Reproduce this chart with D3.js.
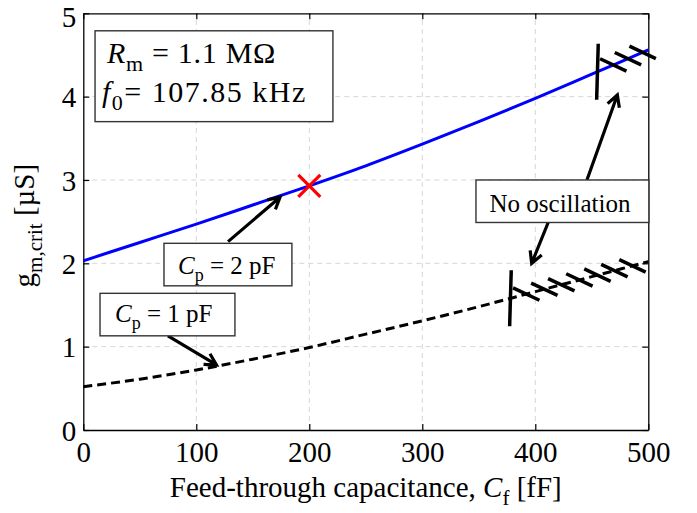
<!DOCTYPE html>
<html>
<head>
<meta charset="utf-8">
<script src="https://cdn.jsdelivr.net/npm/d3@7"></script>
<style>
  body { margin: 0; background: #fff; }
  text { font-family: "Liberation Serif", "Times New Roman", serif; fill: #000; }
</style>
</head>
<body>
<svg id="chart"></svg>
<script>
// feed-through capacitance [fF]
const capF = [0, 50, 100, 150, 200, 250, 300, 350, 400, 450, 500];
// critical transconductance [uS]
const gmCp2 = [2.03, 2.25, 2.47, 2.70, 2.93, 3.17, 3.43, 3.70, 3.98, 4.27, 4.56];
const gmCp1 = [0.52, 0.61, 0.72, 0.85, 0.99, 1.15, 1.31, 1.48, 1.66, 1.84, 2.02];

const xTicks = [0, 100, 200, 300, 400, 500];
const yTicks = [0, 1, 2, 3, 4, 5];

// red cross on the Cp = 2 pF curve
const markCf = 200;
const markGm = 2.93;

// "no oscillation" limits and hatch marks along each curve
const limitCp2 = 455;
const hatchCp2 = [469, 482, 495];
const limitCp1 = 378;
const hatchCp1 = [392, 408, 423, 439, 455, 470, 486];

const width = 697, height = 513;
const margin = { top: 13.3, right: 48.7, bottom: 83, left: 83.3 };

const svg = d3.select('#chart')
  .attr('width', width)
  .attr('height', height);

const x = d3.scaleLinear().domain([0, 500]).range([margin.left, width - margin.right]);
const y = d3.scaleLinear().domain([0, 5]).range([height - margin.bottom, margin.top]);

// grid
svg.append('g')
  .selectAll('line')
  .data(xTicks.slice(1, -1))
  .enter().append('line')
  .attr('x1', d => x(d)).attr('x2', d => x(d))
  .attr('y1', y(0)).attr('y2', y(5))
  .attr('stroke', '#d6d6d6').attr('stroke-dasharray', '5,4');
svg.append('g')
  .selectAll('line')
  .data(yTicks.slice(1, -1))
  .enter().append('line')
  .attr('y1', d => y(d)).attr('y2', d => y(d))
  .attr('x1', x(0)).attr('x2', x(500))
  .attr('stroke', '#d6d6d6').attr('stroke-dasharray', '5,4');

// axes, ticks inside on all four sides
const fontSize = 29;
const fmt = d3.format('d');
const axisB = svg.append('g')
  .attr('transform', `translate(0,${y(0)})`)
  .call(d3.axisBottom(x).tickValues(xTicks).tickFormat(fmt).tickSizeInner(-6).tickSizeOuter(0).tickPadding(11));
const axisT = svg.append('g')
  .attr('transform', `translate(0,${y(5)})`)
  .call(d3.axisTop(x).tickValues(xTicks).tickSizeInner(-6).tickSizeOuter(0).tickFormat(''));
const axisL = svg.append('g')
  .attr('transform', `translate(${x(0)},0)`)
  .call(d3.axisLeft(y).tickValues(yTicks).tickFormat(fmt).tickSizeInner(-6).tickSizeOuter(0).tickPadding(7));
const axisR = svg.append('g')
  .attr('transform', `translate(${x(500)},0)`)
  .call(d3.axisRight(y).tickValues(yTicks).tickSizeInner(-6).tickSizeOuter(0).tickFormat(''));

[axisB, axisT, axisL, axisR].forEach(a => {
  a.attr('font-family', '"Liberation Serif", serif').attr('font-size', fontSize);
  a.select('.domain').attr('stroke', '#000').attr('stroke-width', 1.3);
  a.selectAll('.tick line').attr('stroke', '#000').attr('stroke-width', 1.2);
  a.selectAll('text').attr('fill', '#000');
});
axisB.selectAll('.tick text').attr('dy', '0.71em');
// top label sits a little lower so it stays inside the figure
axisL.selectAll('.tick text').attr('dy', d => d === 5 ? '0.47em' : '0.35em');

// curves
const line = d3.line()
  .x((d, i) => x(capF[i]))
  .y(d => y(d))
  .curve(d3.curveMonotoneX);

svg.append('path')
  .datum(gmCp1)
  .attr('fill', 'none')
  .attr('stroke', '#000')
  .attr('stroke-width', 3)
  .attr('stroke-dasharray', '9,5')
  .attr('d', line);

svg.append('path')
  .datum(gmCp2)
  .attr('fill', 'none')
  .attr('stroke', '#0000ff')
  .attr('stroke-width', 3)
  .attr('d', line);

// position on the drawn curve, for placing the limit marks
const along = (series, cf) => {
  const i = Math.min(d3.bisectRight(capF, cf) - 1, capF.length - 2);
  const t = (cf - capF[i]) / (capF[i + 1] - capF[i]);
  return series[i] + t * (series[i + 1] - series[i]);
};

const limits = [
  { series: gmCp2, limit: limitCp2, hatch: hatchCp2 },
  { series: gmCp1, limit: limitCp1, hatch: hatchCp1 }
];
limits.forEach(l => {
  const px = x(l.limit), py = y(along(l.series, l.limit));
  svg.append('line')
    .attr('x1', px + 0.8).attr('y1', py - 28)
    .attr('x2', px - 0.8).attr('y2', py + 28)
    .attr('stroke', '#000').attr('stroke-width', 3.5);
  svg.append('g')
    .selectAll('line')
    .data(l.hatch)
    .enter().append('line')
    .attr('x1', d => x(d) - 13.2).attr('y1', d => y(along(l.series, d)) - 6.2)
    .attr('x2', d => x(d) + 13.2).attr('y2', d => y(along(l.series, d)) + 6.2)
    .attr('stroke', '#000').attr('stroke-width', 3.5);
});

// red cross
const cx = x(markCf), cy = y(markGm);
svg.append('path')
  .attr('d', `M${cx - 11},${cy - 11}L${cx + 11},${cy + 11}M${cx - 11},${cy + 11}L${cx + 11},${cy - 11}`)
  .attr('stroke', '#ff0000')
  .attr('stroke-width', 3.2)
  .attr('fill', 'none');

// annotation arrows: [from cf, from gm, to cf, to gm]
const arrows = [
  [128.1, 2.26, 174.1, 2.793],
  [74.9, 1.13, 117.9, 0.78],
  [411.4, 2.49, 396.8, 2.0],
  [445.7, 3.0, 472.6, 4.02]
];
arrows.forEach(a => {
  const x1 = x(a[0]), y1 = y(a[1]), x2 = x(a[2]), y2 = y(a[3]);
  const ang = Math.atan2(y2 - y1, x2 - x1);
  const hl = 13, ha = 0.5;
  const h1 = [x2 - hl * Math.cos(ang - ha), y2 - hl * Math.sin(ang - ha)];
  const h2 = [x2 - hl * Math.cos(ang + ha), y2 - hl * Math.sin(ang + ha)];
  svg.append('path')
    .attr('d', `M${x1},${y1}L${x2},${y2}M${h1[0]},${h1[1]}L${x2},${y2}L${h2[0]},${h2[1]}`)
    .attr('fill', 'none')
    .attr('stroke', '#000')
    .attr('stroke-width', 3.2)
    .attr('stroke-linejoin', 'miter');
});

// text boxes: corner positions in data units
const boxes = [
  { x0: 10.4, y0: 4.79, x1: 220.9, y1: 3.70 },
  { x0: 347.5, y0: 3.0, x1: 500.5, y1: 2.49 },
  { x0: 71.4, y0: 2.24, x1: 184.6, y1: 1.73 },
  { x0: 14.8, y0: 1.64, x1: 134.2, y1: 1.13 }
];
boxes.forEach(b => {
  svg.append('rect')
    .attr('x', x(b.x0)).attr('y', y(b.y0))
    .attr('width', x(b.x1) - x(b.x0))
    .attr('height', y(b.y1) - y(b.y0))
    .attr('fill', '#fff')
    .attr('stroke', '#333')
    .attr('stroke-width', 1.4);
});

// rich text helper: parts are [text, style] with style '', 'i' (italic) or 'sub'
function richText(g, px, py, parts, size, anchor, spacing) {
  const t = g.append('text')
    .attr('x', px).attr('y', py)
    .style('font-size', size + 'px')
    .attr('text-anchor', anchor || 'start');
  if (spacing) t.style('letter-spacing', spacing + 'px');
  let shift = 0;
  parts.forEach(p => {
    const s = t.append('tspan').text(p[0]);
    if (p[1] === 'i') s.style('font-style', 'italic');
    const want = p[1] === 'sub' ? Math.round(size * 0.27) : 0;
    if (want !== shift) { s.attr('dy', want - shift); shift = want; }
    if (p[1] === 'sub') s.style('font-size', Math.round(size * 0.72) + 'px');
  });
  return t;
}

richText(svg, 107, 63, [['R', 'i'], ['m', 'sub'], [' = 1.1 M\u03A9', '']], 30, 'start', 0.7);
richText(svg, 102, 101.5, [['f', 'i'], ['0', 'sub'], ['= 107.85 kHz', '']], 30, 'start', 1.5);
richText(svg, 560, 211.5, [['No oscillation', '']], 25, 'middle');
richText(svg, 178, 273.5, [['C', 'i'], ['p', 'sub'], [' = 2 pF', '']], 25);
richText(svg, 115, 321.5, [['C', 'i'], ['p', 'sub'], [' = 1 pF', '']], 25);

// axis titles
richText(svg, (x(0) + x(500)) / 2, 497,
  [['Feed-through capacitance, ', ''], ['C', 'i'], ['f', 'sub'], [' [fF]', '']], 29, 'middle');

const yl = svg.append('g').attr('transform', `translate(34,${(y(0) + y(5)) / 2 + 4}) rotate(-90)`);
richText(yl, 0, 0, [['g', ''], ['m,crit', 'sub'], [' [\u00B5S]', '']], 29, 'middle');
</script>
</body>
</html>
